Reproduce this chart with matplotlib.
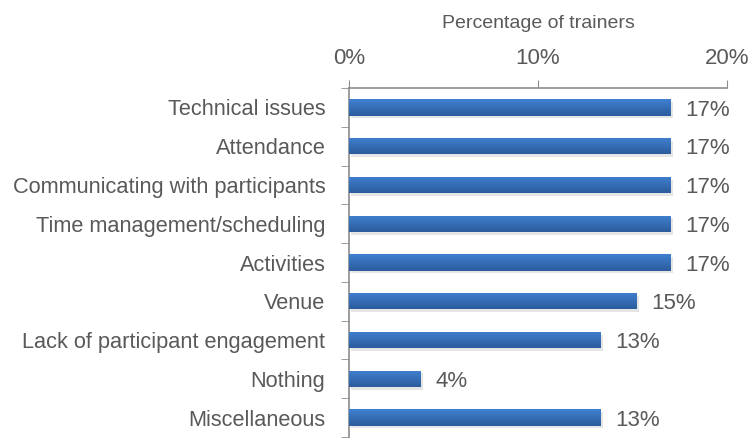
import matplotlib
matplotlib.use("Agg")
import matplotlib.pyplot as plt
import numpy as np
from matplotlib.colors import LinearSegmentedColormap

categories = ["Technical issues", "Attendance", "Communicating with participants",
              "Time management/scheduling", "Activities", "Venue",
              "Lack of participant engagement", "Nothing", "Miscellaneous"]
values = [17.0, 17.0, 17.0, 17.0, 17.0, 15.2, 13.3, 3.8, 13.3]
labels = ["17%", "17%", "17%", "17%", "17%", "15%", "13%", "4%", "13%"]
xticks = [0, 10, 20]
xticklabels = ["0%", "10%", "20%"]

plt.rcParams['font.family'] = ['Liberation Sans', 'DejaVu Sans']
gray = "#595959"

fig = plt.figure(figsize=(7.56, 4.4), dpi=100)
ax = fig.add_axes([0.4616, 0.0068, 0.5, 0.7932])
y = np.arange(len(categories))
bars = ax.barh(y, values, height=0.42, color="#3A72C0", zorder=3)

grad = np.linspace(0, 1, 100).reshape(-1, 1)
cmap = LinearSegmentedColormap.from_list("g", ["#4080D0", "#2C5C9C"])
for b in bars:
    x0, y0 = b.get_x(), b.get_y()
    w, h = b.get_width(), b.get_height()
    sh = plt.Rectangle((x0 + 0.12, y0 + 0.07), w, h, color="#000000", alpha=0.10, zorder=2, lw=0)
    ax.add_patch(sh)
    im = ax.imshow(grad, extent=[x0, x0 + w, y0 + h, y0], cmap=cmap, aspect="auto", zorder=4)
    im.set_clip_path(b)

for yi, v, lab in zip(y, values, labels):
    ax.text(v + 0.8, yi + 0.07, lab, va="center", ha="left", fontsize=16, color=gray)

ax.set_xlim(0, 20)
ax.set_ylim(len(categories) - 0.5, -0.5)
ax.xaxis.tick_top()
ax.set_xticks(xticks)
ax.set_xticklabels(xticklabels, fontsize=16, color=gray)
ax.tick_params(axis='x', direction='out', length=6, color="#8c8c8c", pad=8)
ax.set_yticks(y)
ax.set_yticklabels(categories, fontsize=15.7, color=gray)
ax.set_yticks(np.arange(len(categories) + 1) - 0.5, minor=True)
ax.tick_params(axis='y', which='major', length=0, pad=17)
ax.tick_params(axis='y', which='minor', length=6, color="#8c8c8c", direction='out')
ax.set_xlabel("Percentage of trainers", fontsize=14, color=gray, labelpad=14)
ax.xaxis.set_label_position('top')
for s in ['right', 'bottom']:
    ax.spines[s].set_visible(False)
for s in ['top', 'left']:
    ax.spines[s].set_color("#8c8c8c")
    ax.spines[s].set_linewidth(1.2)

fig.savefig("out.png", dpi=100)
